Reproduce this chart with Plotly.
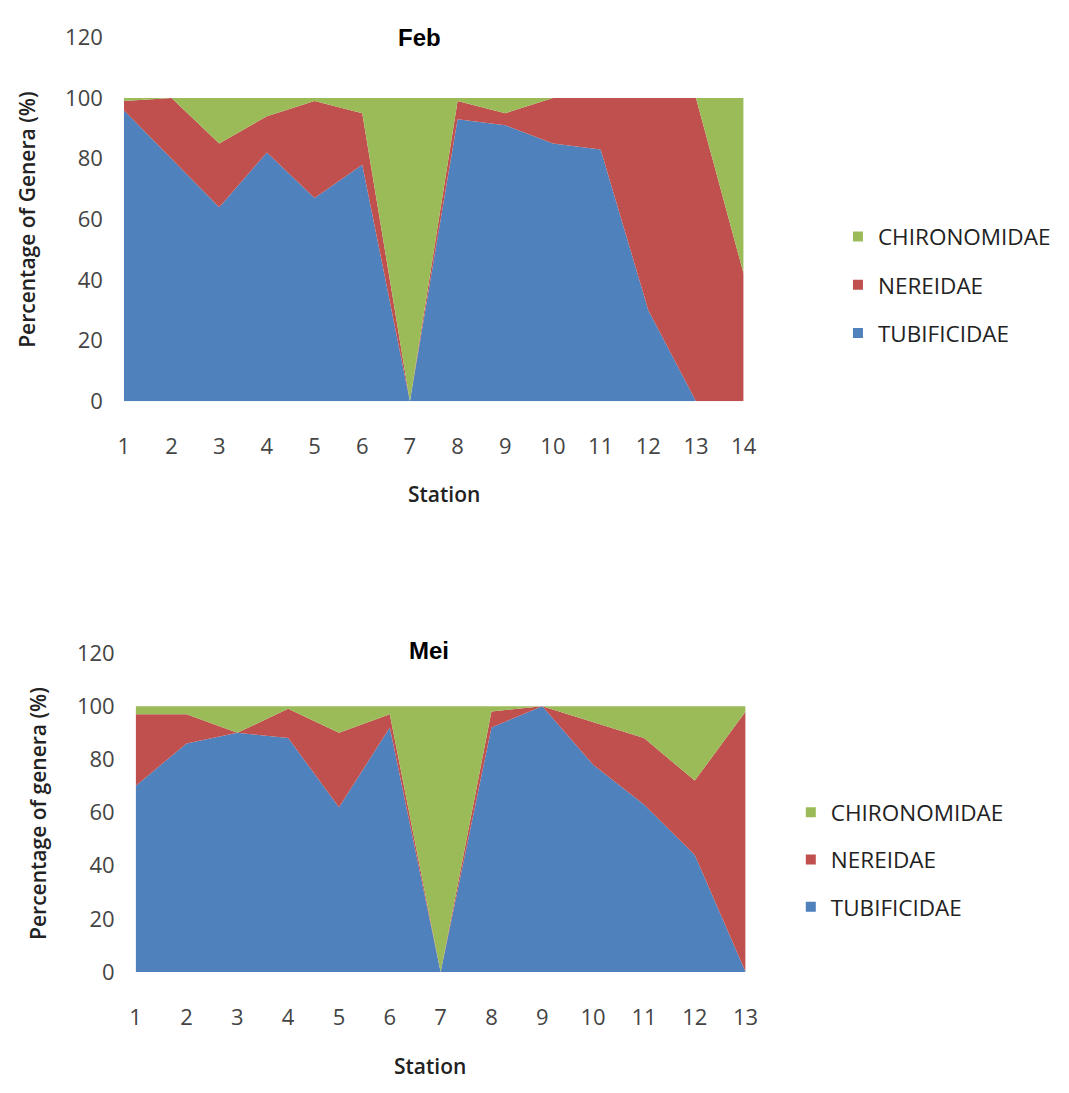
import plotly.graph_objects as go

# Family composition (%) per sampling station
families = ["TUBIFICIDAE", "NEREIDAE", "CHIRONOMIDAE"]
colors = ["#4F81BD", "#C0504D", "#9BBB59"]

feb_stations = list(range(1, 15))
feb_tubificidae = [96, 80, 64, 82, 67, 78, 0, 93, 91, 85, 83, 30, 0, 0]
feb_nereidae = [3, 20, 21, 12, 32, 17, 0, 6, 4, 15, 17, 70, 100, 42]
feb_chironomidae = [1, 0, 15, 6, 1, 5, 100, 1, 5, 0, 0, 0, 0, 58]

mei_stations = list(range(1, 14))
mei_tubificidae = [70, 86, 90, 88, 62, 92, 0, 92, 100, 78, 63, 44, 0]
mei_nereidae = [27, 11, 0, 11, 28, 5, 0, 6, 0, 16, 25, 28, 98]
mei_chironomidae = [3, 3, 10, 1, 10, 3, 100, 2, 0, 6, 12, 28, 2]

y_ticks = [0, 20, 40, 60, 80, 100, 120]

W, H = 1069, 1093


def px_x(x):
    return x / W


def px_y(y):
    return 1 - y / H


fig = go.Figure()

panels = [
    ("x", "y", feb_stations, [feb_tubificidae, feb_nereidae, feb_chironomidae], "legend"),
    ("x2", "y2", mei_stations, [mei_tubificidae, mei_nereidae, mei_chironomidae], "legend2"),
]

for xa, ya, stations, series, leg in panels:
    group = "g_" + xa
    for name, col, vals in zip(families, colors, series):
        fig.add_trace(go.Scatter(
            x=stations, y=vals, name=name, xaxis=xa, yaxis=ya,
            mode="lines", stackgroup=group, line=dict(width=0, color=col),
            fillcolor=col, showlegend=False, hoverinfo="x+y+name",
        ))
    # square legend keys, top entry = top layer of the stack
    for rank, (name, col) in enumerate(zip(families, colors)):
        fig.add_trace(go.Scatter(
            x=[None], y=[None], name=name, xaxis=xa, yaxis=ya, mode="markers",
            marker=dict(symbol="square", size=10, color=col),
            legend=leg, legendgroup=leg + name, legendrank=100 - rank,
        ))

tick_font = dict(family="Open Sans, DejaVu Sans", size=22, color="#444444")

axis_common = dict(showgrid=False, zeroline=False, showline=False, ticks="",
                   tickfont=tick_font)

legend_font = dict(family="Open Sans, DejaVu Sans", size=22.5, color="#222222")

fig.update_layout(
    width=W, height=H,
    margin=dict(l=0, r=0, t=0, b=0),
    paper_bgcolor="white", plot_bgcolor="white",
    showlegend=True,
    xaxis=dict(domain=[px_x(120), px_x(751)], range=[1, 14], tickvals=feb_stations,
               anchor="y", ticklabelstandoff=30, **axis_common),
    yaxis=dict(domain=[px_y(396), px_y(22)], range=[0, 120], tickvals=y_ticks,
               anchor="x", ticklabelstandoff=20, **axis_common),
    xaxis2=dict(domain=[px_x(132), px_x(753)], range=[1, 13], tickvals=mei_stations,
                anchor="y2", ticklabelstandoff=30, **axis_common),
    yaxis2=dict(domain=[px_y(983), px_y(655)], range=[0, 120], tickvals=y_ticks,
                anchor="x2", ticklabelstandoff=20, **axis_common),
    legend=dict(x=px_x(847), y=px_y(205), xanchor="left", yanchor="top",
                traceorder="grouped", tracegroupgap=16,
                font=legend_font, bgcolor="rgba(0,0,0,0)", itemwidth=30),
    legend2=dict(x=px_x(799), y=px_y(797), xanchor="left", yanchor="top",
                 traceorder="grouped", tracegroupgap=15,
                 font=legend_font, bgcolor="rgba(0,0,0,0)", itemwidth=30),
)

title_font = dict(family="Liberation Sans, Arial", size=24, color="#000000", weight="bold")
label_font = dict(family="Open Sans, DejaVu Sans", size=21, color="#222222", weight=600)

annotations = [
    dict(text="Feb", x=px_x(421), y=px_y(22), font=title_font),
    dict(text="Mei", x=px_x(431), y=px_y(652), font=title_font),
    dict(text="Station", x=px_x(446), y=px_y(492), font=label_font),
    dict(text="Station", x=px_x(432), y=px_y(1080), font=label_font),
    dict(text="Percentage of Genera (%)", x=px_x(22), y=px_y(210), textangle=-90, font=label_font),
    dict(text="Percentage of genera (%)", x=px_x(33), y=px_y(820), textangle=-90, font=label_font),
]
for a in annotations:
    fig.add_annotation(xref="paper", yref="paper", showarrow=False,
                       xanchor="center", yanchor="middle", **a)

fig.write_html("out.html")
